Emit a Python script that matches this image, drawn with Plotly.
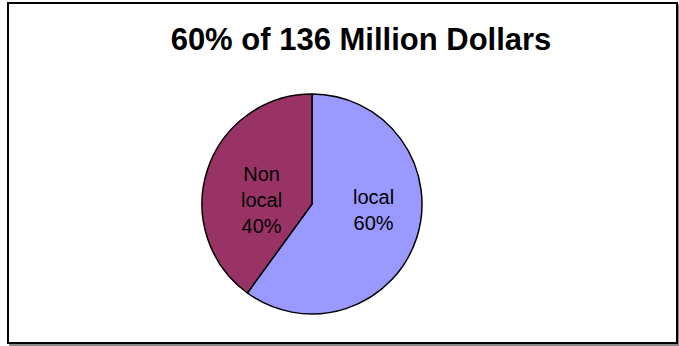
import plotly.graph_objects as go

labels = ["local", "Non local"]
values = [60, 40]
text_labels = ["local<br>60%", "Non<br>local<br>40%"]
colors = ["#9999FF", "#993366"]
title_text = "60% of 136 Million Dollars"

W, H = 679, 346
FONT = "Liberation Sans, Arial, sans-serif"

fig = go.Figure(go.Pie(
    labels=labels,
    values=values,
    text=text_labels,
    textinfo="none",
    sort=False,
    direction="clockwise",
    rotation=0,
    marker=dict(colors=colors, line=dict(color="black", width=1.5)),
    domain=dict(x=[202 / W, 422 / W], y=[32 / H, 252 / H]),
    showlegend=False,
    hoverinfo="label+percent",
))

# slice labels, positioned relative to the pie (layout), text from data
label_pos = {"local": (373, 210), "Non local": (261, 200)}
annotations = []
for lab, txt in zip(labels, text_labels):
    px, py = label_pos[lab]
    annotations.append(dict(
        text=txt, x=px / W, y=1 - py / H, xref="paper", yref="paper",
        xanchor="center", yanchor="middle", showarrow=False, align="center",
        font=dict(family=FONT, size=20, color="black"),
    ))

fig.update_layout(
    width=W, height=H,
    margin=dict(l=0, r=0, t=0, b=0),
    paper_bgcolor="white",
    plot_bgcolor="white",
    title=dict(
        text="<b>" + title_text + "</b>",
        x=361 / W, xanchor="center",
        y=1 - 39 / H, yanchor="middle",
        font=dict(family=FONT, size=31, color="black"),
    ),
    annotations=annotations,
    shapes=[
        dict(type="rect", xref="paper", yref="paper",
             x0=10 / W, x1=679 / W, y0=1 - 345 / H, y1=1 - 5 / H,
             line=dict(color="#888888", width=2), layer="below"),
        dict(type="rect", xref="paper", yref="paper",
             x0=8 / W, x1=677 / W, y0=1 - 343 / H, y1=1 - 3 / H,
             line=dict(color="black", width=2), fillcolor="white", layer="below"),
    ],
)

fig.write_html("out.html")
